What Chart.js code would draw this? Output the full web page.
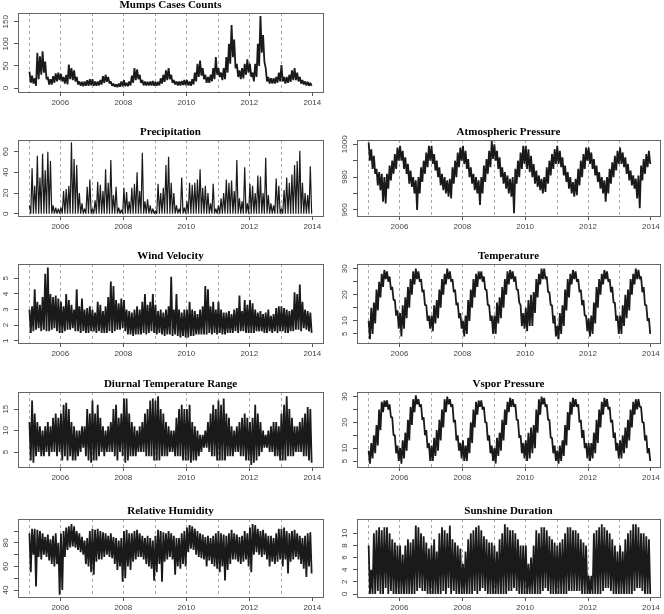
<!DOCTYPE html>
<html>
<head>
<meta charset="utf-8">
<script src="https://cdn.jsdelivr.net/npm/chart.js@4.4.1/dist/chart.umd.min.js"></script>
<style>
  html, body { margin: 0; padding: 0; background: #fff; }
  body { width: 664px; height: 614px; position: relative; overflow: hidden; }
  canvas { position: absolute; }
</style>
</head>
<body>
<script>
// --- axis data ---
const xTicks = [2006, 2008, 2010, 2012, 2014];
const dashYears = [2005, 2006, 2007, 2008, 2009, 2010, 2011, 2012, 2013];

// --- monthly high / low values, Jan 2005 .. Dec 2013 ---
const mumpsHi = [
  37, 28, 22, 80, 72, 83, 60, 25, 20, 27, 33, 35,
  32, 25, 30, 53, 45, 40, 25, 15, 14, 15, 18, 20,
  20, 15, 15, 18, 27, 30, 25, 15, 10, 8, 10, 15,
  18, 12, 15, 28, 45, 42, 30, 18, 15, 14, 15, 16,
  14, 14, 22, 30, 40, 45, 30, 18, 15, 15, 16, 18,
  18, 15, 20, 35, 55, 62, 45, 30, 25, 30, 45, 70,
  45, 35, 45, 70, 100, 143, 110, 55, 40, 45, 55, 65,
  55, 35, 55, 100, 163, 120, 45, 25, 22, 22, 25, 35,
  52, 25, 25, 30, 40, 45, 35, 25, 18, 15, 14, 12
];
const mumpsLo = [
  12, 10, 5, 20, 30, 35, 20, 8, 8, 12, 15, 18,
  15, 10, 8, 20, 18, 15, 8, 5, 4, 5, 5, 6,
  5, 5, 6, 8, 12, 14, 10, 5, 3, 2, 3, 4,
  4, 4, 6, 12, 18, 20, 12, 6, 6, 6, 6, 5,
  5, 6, 10, 14, 18, 20, 12, 8, 6, 6, 7, 6,
  6, 5, 8, 15, 25, 28, 20, 12, 12, 15, 20, 30,
  25, 18, 20, 35, 55, 70, 45, 25, 20, 22, 30, 35,
  25, 15, 25, 50, 80, 60, 15, 10, 10, 10, 12, 15,
  15, 10, 12, 14, 18, 18, 15, 10, 8, 6, 5, 5
];
const precipHi = [
  8, 44, 27, 56, 35, 58, 42, 60, 51, 8, 6, 5,
  6, 22, 24, 27, 69, 53, 47, 20, 10, 5, 26, 33,
  5, 13, 31, 28, 22, 43, 30, 52, 18, 26, 6, 4,
  25, 21, 12, 25, 29, 40, 22, 59, 12, 14, 8, 5,
  3, 29, 20, 25, 47, 55, 30, 20, 8, 5, 35, 6,
  12, 30, 28, 30, 33, 43, 25, 27, 20, 10, 29, 5,
  8, 15, 20, 33, 30, 32, 22, 52, 15, 12, 45, 10,
  29, 27, 20, 37, 36, 20, 54, 18, 10, 8, 34, 27,
  5, 23, 35, 30, 38, 47, 51, 61, 30, 20, 18, 46
];
const precipLo = [
  0, 0, 0, 0, 0, 0, 0, 0, 0, 0, 0, 0,
  0, 0, 0, 0, 0, 0, 0, 0, 0, 0, 0, 0,
  0, 0, 0, 0, 0, 0, 0, 0, 0, 0, 0, 0,
  0, 0, 0, 0, 0, 0, 0, 0, 0, 0, 0, 0,
  0, 0, 0, 0, 0, 0, 0, 0, 0, 0, 0, 0,
  0, 0, 0, 0, 0, 0, 0, 0, 0, 0, 0, 0,
  0, 0, 0, 0, 0, 0, 0, 0, 0, 0, 0, 0,
  0, 0, 0, 0, 0, 0, 0, 0, 0, 0, 0, 0,
  0, 0, 0, 0, 0, 0, 0, 0, 0, 0, 0, 0
];
const pressHi = [
  1001, 997, 993, 985, 983, 982, 980, 982, 987, 990, 994, 998,
  999, 996, 992, 988, 984, 980, 978, 980, 986, 990, 995, 999,
  999, 994, 990, 986, 982, 980, 978, 979, 986, 990, 995, 998,
  999, 996, 991, 986, 982, 980, 978, 980, 987, 991, 996, 1002,
  1000, 996, 992, 986, 983, 981, 979, 980, 985, 990, 995, 999,
  999, 997, 993, 988, 984, 981, 979, 980, 986, 990, 994, 997,
  999, 996, 992, 987, 983, 980, 977, 979, 985, 990, 994, 998,
  998, 995, 991, 987, 983, 980, 978, 980, 985, 989, 993, 996,
  998, 995, 992, 988, 984, 981, 979, 981, 987, 991, 994, 996
];
const pressLo = [
  990, 985, 982, 975, 972, 965, 964, 973, 978, 982, 985, 990,
  990, 985, 982, 976, 974, 970, 960, 970, 977, 982, 986, 990,
  988, 984, 980, 975, 972, 970, 968, 967, 976, 980, 986, 990,
  988, 985, 980, 976, 972, 970, 963, 970, 977, 982, 986, 991,
  990, 985, 980, 976, 973, 970, 968, 958, 976, 980, 985, 988,
  985, 983, 980, 976, 974, 972, 970, 971, 976, 981, 985, 988,
  988, 986, 981, 977, 973, 970, 968, 969, 975, 980, 985, 990,
  988, 985, 981, 977, 973, 970, 965, 970, 976, 980, 984, 988,
  988, 986, 982, 978, 975, 973, 967, 961, 978, 982, 986, 988
];
const windHi = [
  3.0, 3.2, 4.3, 3.5, 3.3, 3.8, 5.3, 5.7, 4.0, 3.8, 3.9, 3.7,
  3.5, 3.2, 4.0, 3.6, 3.3, 3.0, 4.3, 3.2, 3.7, 3.0, 3.1, 3.2,
  3.0, 2.8, 3.5, 3.3, 2.9, 3.2, 3.8, 4.8, 4.5, 3.6, 3.4, 3.7,
  3.6, 3.0, 2.9, 2.8, 3.0, 3.2, 3.0, 3.5, 4.0, 3.3, 3.5, 4.0,
  3.3, 2.9, 3.0, 2.8, 3.0, 3.2, 5.1, 3.0, 4.0, 3.0, 2.8, 3.0,
  3.0, 3.5, 3.0, 2.9, 2.7, 3.0, 3.2, 4.5, 4.3, 3.2, 3.5, 3.0,
  3.5, 3.0, 2.8, 2.8, 2.9, 2.7, 3.0, 3.1, 3.9, 2.9, 3.6, 3.3,
  3.6, 3.4, 3.0, 2.8, 2.9, 2.7, 2.8, 3.0, 2.6, 2.7, 3.1, 3.2,
  3.2, 3.1, 3.0, 2.9, 3.0, 4.1, 4.0, 4.6, 3.5, 3.0, 2.9, 2.8
];
const windLo = [
  1.5, 1.6, 1.7, 1.8, 1.6, 1.7, 1.6, 1.6, 1.7, 1.8, 1.6, 1.5,
  1.5, 1.6, 1.7, 1.7, 1.8, 1.6, 1.6, 1.5, 1.6, 1.5, 1.5, 1.6,
  1.6, 1.5, 1.6, 1.5, 1.5, 1.5, 1.6, 1.5, 1.6, 1.7, 1.7, 1.8,
  1.6, 1.4, 1.4, 1.3, 1.4, 1.4, 1.4, 1.5, 1.4, 1.5, 1.6, 1.5,
  1.4, 1.5, 1.4, 1.3, 1.4, 1.4, 1.3, 1.4, 1.3, 1.2, 1.3, 1.2,
  1.2, 1.3, 1.3, 1.4, 1.4, 1.4, 1.4, 1.4, 1.5, 1.4, 1.5, 1.4,
  1.5, 1.4, 1.4, 1.5, 1.5, 1.5, 1.6, 1.5, 1.6, 1.6, 1.5, 1.5,
  1.5, 1.5, 1.6, 1.6, 1.6, 1.5, 1.5, 1.6, 1.5, 1.6, 1.5, 1.6,
  1.6, 1.5, 1.5, 1.6, 1.6, 1.7, 1.7, 1.6, 1.8, 1.7, 1.6, 1.5
];
const tempHi = [
  10, 15, 17, 22, 25, 28, 29.5, 29, 27, 23, 18, 14,
  13, 16, 19, 23, 26, 29, 30, 29, 26, 22, 16, 12,
  12, 16, 18, 22, 26, 28, 30, 29, 26, 22, 17, 13,
  10, 12, 18, 22, 26, 28, 29, 29, 27, 22, 16, 12,
  12, 17, 19, 23, 26, 29, 29.5, 29, 27, 22, 16, 13,
  15, 18, 20, 21, 26, 28, 30, 30, 27, 21, 16, 12,
  8, 13, 16, 22, 26, 28, 29.5, 29, 26, 22, 18, 12,
  11, 12, 17, 23, 26, 28, 29.5, 29, 26, 23, 17, 12,
  12, 16, 20, 22, 26, 28, 30, 29.5, 27, 23, 16, 11
];
const tempLo = [
  3, 5, 9, 14, 19, 23, 26, 25, 22, 18, 12, 7,
  4, 7, 11, 15, 20, 24, 26, 25, 21, 16, 10, 7,
  6, 9, 11, 15, 20, 24, 26, 25, 21, 16, 11, 7,
  4, 5, 10, 15, 19, 23, 26, 25, 22, 16, 10, 5,
  5, 9, 11, 15, 20, 24, 26, 25, 22, 17, 8, 7,
  6, 8, 8, 13, 19, 24, 26, 26, 21, 16, 9, 4,
  3, 5, 8, 14, 19, 24, 26, 25, 21, 16, 12, 6,
  4, 5, 9, 15, 20, 24, 26, 25, 21, 17, 10, 5,
  5, 8, 11, 14, 20, 24, 26, 26, 21, 16, 10, 5
];
const dtrHi = [
  12, 17, 14, 12, 11, 10, 11, 12, 11, 13, 14, 13,
  14, 16, 16.5, 15, 12, 11, 10, 10, 11, 11, 15, 14,
  17, 14, 16, 13, 11, 10, 11, 12, 15, 16, 13, 14,
  17.5, 17.5, 14, 12, 11, 10, 11, 12, 14, 15, 17, 17.5,
  17, 18, 15, 14, 12, 11, 10, 10, 13, 15, 16, 15,
  15, 16, 12, 11, 10, 9, 9, 10, 12, 14, 16, 15,
  17, 16, 17.5, 14, 13, 11, 10, 11, 12, 13, 14, 13,
  12, 13, 16, 14, 12, 10, 9, 10, 11, 12, 12, 11,
  14, 16, 18, 15, 13, 11, 11, 12, 13, 14, 15.5, 15
];
const dtrLo = [
  3, 2.5, 4, 5, 4, 4, 5, 4, 5, 5, 4, 5,
  3, 4, 3, 4, 3, 3, 4, 5, 6, 4, 3, 2.5,
  3, 3, 4, 5, 4, 5, 5, 5, 4, 3, 5, 4,
  2.5, 3, 4, 4, 4, 5, 5, 5, 4, 4, 4, 3,
  3, 3, 4, 4, 4, 5, 5, 4, 4, 4, 3, 3,
  3, 2.5, 3, 3, 4, 5, 6, 6, 5, 4, 4, 3,
  3, 3, 3, 4, 4, 4, 5, 5, 4, 4, 3, 3,
  2, 2.5, 3, 4, 5, 6, 6, 5, 5, 4, 4, 3,
  3, 3, 4, 4, 4, 5, 5, 5, 4, 4, 3, 2.5
];
const vaporHi = [
  9, 12, 15, 19, 25, 28, 28.5, 28.5, 27, 22, 15, 11,
  10, 13, 16, 21, 26, 29, 30.5, 29, 27, 22, 17, 12,
  11, 14, 17, 21, 25, 29, 30, 29, 27, 21, 15, 12,
  13, 11, 14, 20, 25, 28, 28.5, 28.5, 26, 20, 15, 11,
  10, 14, 16, 21, 25, 28, 29.5, 29, 27, 21, 15, 12,
  13, 16, 18, 19, 25, 29, 30, 29.5, 27, 21, 14, 11,
  9, 11, 13, 19, 24, 28, 29.5, 29, 27, 21, 17, 12,
  12, 12, 16, 21, 25, 28, 29.5, 29, 26, 21, 16, 12,
  13, 15, 18, 21, 25, 28, 29, 29, 26, 20, 15, 10
];
const vaporLo = [
  4, 6, 8, 11, 17, 24, 26, 25, 22, 15, 8, 5,
  4, 6, 9, 13, 19, 24, 27, 26, 21, 15, 10, 5,
  5, 7, 9, 13, 18, 24, 27, 26, 20, 13, 9, 6,
  5, 5, 8, 12, 18, 23, 26, 25, 20, 13, 8, 5,
  4, 7, 9, 13, 19, 24, 26, 26, 21, 14, 8, 6,
  5, 6, 8, 10, 16, 23, 27, 26, 21, 14, 8, 5,
  4, 5, 7, 11, 17, 23, 26, 26, 20, 14, 10, 6,
  5, 6, 8, 12, 18, 23, 26, 25, 20, 14, 9, 6,
  6, 8, 10, 13, 18, 23, 25, 26, 20, 13, 8, 5
];
const rhHi = [
  88, 92, 92, 91, 90, 88, 85, 87, 83, 86, 88, 80,
  88, 90, 93, 94, 96, 94, 90, 88, 85, 82, 84, 90,
  92, 91, 92, 90, 89, 88, 86, 88, 85, 84, 82, 84,
  90, 91, 88, 88, 90, 91, 88, 86, 84, 86, 84, 82,
  86, 91, 90, 89, 88, 90, 88, 86, 84, 84, 88, 90,
  93, 95, 94, 92, 90, 88, 87, 85, 86, 84, 86, 88,
  90, 88, 87, 86, 88, 91, 88, 87, 85, 86, 90, 88,
  93, 96, 95, 92, 90, 91, 88, 86, 86, 84, 88, 92,
  92, 93, 90, 88, 90, 91, 88, 86, 84, 86, 88, 89
];
const rhLo = [
  55, 70, 43, 68, 66, 70, 68, 65, 62, 60, 62, 36,
  40, 68, 74, 76, 77, 76, 74, 72, 70, 62, 60, 55,
  53, 64, 66, 66, 68, 70, 68, 67, 62, 57, 60, 47,
  50, 60, 57, 64, 66, 68, 68, 66, 62, 60, 58, 48,
  55, 62, 47, 64, 66, 68, 66, 53, 60, 58, 62, 60,
  72, 75, 74, 70, 68, 67, 66, 60, 65, 62, 60, 58,
  55, 60, 48, 57, 62, 66, 66, 64, 62, 64, 66, 60,
  55, 70, 72, 70, 68, 70, 66, 60, 64, 62, 64, 66,
  60, 66, 54, 64, 66, 68, 66, 62, 58, 51, 60, 54
];
const sunHi = [
  8, 4, 10, 10.5, 11, 10.5, 11, 11, 10, 9, 8.5, 8,
  8, 6.5, 8, 9, 8.5, 9, 11.3, 11, 10, 9.5, 8.5, 7.5,
  8, 9, 7, 10, 11, 10.5, 10, 11.3, 9, 8.5, 8, 7.5,
  5, 7, 9, 10, 10.5, 11, 11.3, 10.5, 9.5, 9, 8.5, 8.5,
  8, 7, 9, 10, 11.5, 11, 10.5, 10.5, 10, 9, 8, 8,
  8, 5, 6, 8, 10.5, 10, 11, 11, 10.5, 9.5, 9, 8.5,
  8, 8.5, 9, 10, 11, 11, 10.5, 10.5, 10, 9, 8.5, 8,
  3, 3, 10, 10.5, 11, 11.5, 11, 10.5, 10, 9, 8, 7,
  8, 7, 9, 10, 10.5, 11.5, 11.5, 11, 10, 10, 9.5, 9
];
const sunLo = [
  0, 0, 0, 0.5, 0, 0, 1, 0, 0.5, 0, 0, 0,
  0, 0, 0, 0, 0, 0, 0.5, 1, 0.5, 0.5, 0, 0,
  0, 0, 0, 0, 0.5, 0, 1, 0, 0.5, 0, 0, 0,
  0, 0, 0, 0, 0.5, 0, 0.5, 1, 0.5, 0, 0, 0,
  0, 0, 0, 0, 0, 0.5, 0.5, 1, 0.5, 0, 0, 0,
  0, 0, 0, 0, 0, 0, 0.5, 1, 0.5, 0, 0, 0,
  0, 0, 0, 0, 0.5, 0.5, 0.5, 0.5, 0.5, 0, 0, 0,
  0, 0, 0, 0, 0, 0.5, 1, 1, 0.5, 0, 0, 0,
  0, 0, 0, 0, 0, 0.5, 1, 1, 0.5, 0, 0, 0
];

// y ticks (and which get a label)
const mumpsTicks = [0, 50, 100, 150];
const precipTicks = [0, 20, 40, 60];
const pressTicks = [960, 970, 980, 990, 1000];
const pressLabels = ["960", "", "980", "", "1000"];
const windTicks = [1, 2, 3, 4, 5];
const tempTicks = [5, 10, 15, 20, 25, 30];
const tempLabels = ["5", "10", "", "20", "", "30"];
const dtrTicks = [5, 10, 15];
const vaporTicks = [5, 10, 15, 20, 25, 30];
const vaporLabels = ["5", "10", "", "20", "", "30"];
const rhTicks = [40, 50, 60, 70, 80, 90];
const rhLabels = ["40", "", "60", "", "80", ""];
const sunTicks = [0, 2, 4, 6, 8, 10];

// --- layout (plot boxes in page pixels) ---
const cols = [
  { left: 18, right: 323, xMin: 2004.657, xMax: 2014.34 },
  { left: 357, right: 660, xMin: 2004.65, xMax: 2014.29 }
];
const rows = [
  { top: 13, bottom: 92 },
  { top: 140, bottom: 216 },
  { top: 264, bottom: 343 },
  { top: 392, bottom: 467 },
  { top: 519, bottom: 597 }
];

const panels = [
  { title: "Mumps Cases Counts", hi: mumpsHi, lo: mumpsLo, col: 0, row: 0, yMin: -9, yMax: 170, ticks: mumpsTicks, lw: 1.8 },
  { title: "Precipitation", hi: precipHi, lo: precipLo, col: 0, row: 1, yMin: -2.2, yMax: 71.3, ticks: precipTicks, lw: 1.2 },
  { title: "Atmospheric Pressure", hi: pressHi, lo: pressLo, col: 1, row: 1, yMin: 956.3, yMax: 1002.6, ticks: pressTicks, labels: pressLabels, lw: 1.8 },
  { title: "Wind Velocity", hi: windHi, lo: windLo, col: 0, row: 2, yMin: 0.85, yMax: 5.92, ticks: windTicks, lw: 1.8 },
  { title: "Temperature", hi: tempHi, lo: tempLo, col: 1, row: 2, yMin: 1.5, yMax: 31.8, ticks: tempTicks, labels: tempLabels, lw: 1.8 },
  { title: "Diurnal Temperature Range", hi: dtrHi, lo: dtrLo, col: 0, row: 3, yMin: 1.5, yMax: 19, ticks: dtrTicks, lw: 1.8 },
  { title: "Vspor Pressure", hi: vaporHi, lo: vaporLo, col: 1, row: 3, yMin: 2.67, yMax: 31.8, ticks: vaporTicks, labels: vaporLabels, lw: 1.8 },
  { title: "Relative Humidity", hi: rhHi, lo: rhLo, col: 0, row: 4, yMin: 34.1, yMax: 100.2, ticks: rhTicks, labels: rhLabels, lw: 1.8 },
  { title: "Sunshine Duration", hi: sunHi, lo: sunLo, col: 1, row: 4, yMin: -0.49, yMax: 12.36, ticks: sunTicks, lw: 1.8 }
];

const AXW = 18;   // room for y axis
const AXH = 16;   // room for x axis
const PADT = 16;  // room for title
const PADR = 4;

function toPoints(hi, lo) {
  const pts = [];
  for (let m = 0; m < hi.length; m++) {
    pts.push({ x: 2005 + (m + 0.25) / 12, y: hi[m] });
    pts.push({ x: 2005 + (m + 0.75) / 12, y: lo[m] });
  }
  return pts;
}

// R-like frame: dashed year lines, box, rotated y labels, title
const rFrame = {
  id: "rFrame",
  beforeDatasetsDraw(chart) {
    const { ctx, chartArea: a, scales: { x } } = chart;
    ctx.save();
    ctx.strokeStyle = "#a8a8a8";
    ctx.lineWidth = 1;
    ctx.setLineDash([3, 3]);
    dashYears.forEach(yr => {
      const px = Math.round(x.getPixelForValue(yr)) + 0.5;
      ctx.beginPath();
      ctx.moveTo(px, a.top);
      ctx.lineTo(px, a.bottom);
      ctx.stroke();
    });
    ctx.restore();
  },
  afterDraw(chart) {
    const { ctx, chartArea: a, scales: { y } } = chart;
    const p = chart.config.options.plugins.rFrame;
    ctx.save();
    ctx.strokeStyle = "#666";
    ctx.lineWidth = 1;
    ctx.strokeRect(Math.round(a.left) + 0.5, Math.round(a.top) + 0.5,
      Math.round(a.right - a.left), Math.round(a.bottom - a.top));

    ctx.fillStyle = "#444";
    ctx.font = '8px "Liberation Sans", Arial, sans-serif';
    ctx.textAlign = "center";
    ctx.textBaseline = "middle";
    p.ticks.forEach((v, i) => {
      const lab = p.labels ? p.labels[i] : String(v);
      if (!lab) return;
      const py = y.getPixelForValue(v);
      ctx.save();
      ctx.translate(a.left - 12.5, py);
      ctx.rotate(-Math.PI / 2);
      ctx.fillText(lab, 0, 0);
      ctx.restore();
    });

    ctx.fillStyle = "#000";
    ctx.font = 'bold 11px "Liberation Serif", "Times New Roman", serif';
    ctx.textBaseline = "alphabetic";
    ctx.fillText(p.title, (a.left + a.right) / 2, a.top - 5);
    ctx.restore();
  }
};

panels.forEach(p => {
  const c = cols[p.col], r = rows[p.row];
  const cv = document.createElement("canvas");
  const w = AXW + (c.right - c.left) + PADR;
  const h = PADT + (r.bottom - r.top) + AXH;
  cv.width = w;
  cv.height = h;
  cv.style.left = (c.left - AXW) + "px";
  cv.style.top = (r.top - PADT) + "px";
  document.body.appendChild(cv);

  const tickMarks = { drawOnChartArea: false, drawTicks: true, tickLength: 4, color: "#555", lineWidth: 1 };

  new Chart(cv, {
    type: "line",
    data: {
      datasets: [{
        data: toPoints(p.hi, p.lo),
        borderColor: "#1a1a1a",
        borderWidth: p.lw,
        borderJoinStyle: "bevel",
        pointRadius: 0,
        tension: 0,
        fill: false
      }]
    },
    options: {
      responsive: false,
      animation: false,
      events: [],
      layout: { padding: { top: PADT, right: PADR, left: 0, bottom: 0 } },
      plugins: {
        legend: { display: false },
        tooltip: { enabled: false },
        rFrame: { title: p.title, ticks: p.ticks, labels: p.labels }
      },
      scales: {
        x: {
          type: "linear",
          min: c.xMin,
          max: c.xMax,
          afterBuildTicks: s => { s.ticks = xTicks.map(v => ({ value: v })); },
          afterFit: s => { s.height = AXH; },
          grid: tickMarks,
          border: { display: false },
          ticks: {
            font: { family: "Liberation Sans", size: 8 },
            color: "#444",
            padding: 2,
            maxRotation: 0,
            autoSkip: false,
            callback: v => String(v)
          }
        },
        y: {
          type: "linear",
          min: p.yMin,
          max: p.yMax,
          afterBuildTicks: s => { s.ticks = p.ticks.map(v => ({ value: v })); },
          afterFit: s => { s.width = AXW; },
          grid: tickMarks,
          border: { display: false },
          ticks: { display: false }
        }
      }
    },
    plugins: [rFrame]
  });
});
</script>
</body>
</html>
